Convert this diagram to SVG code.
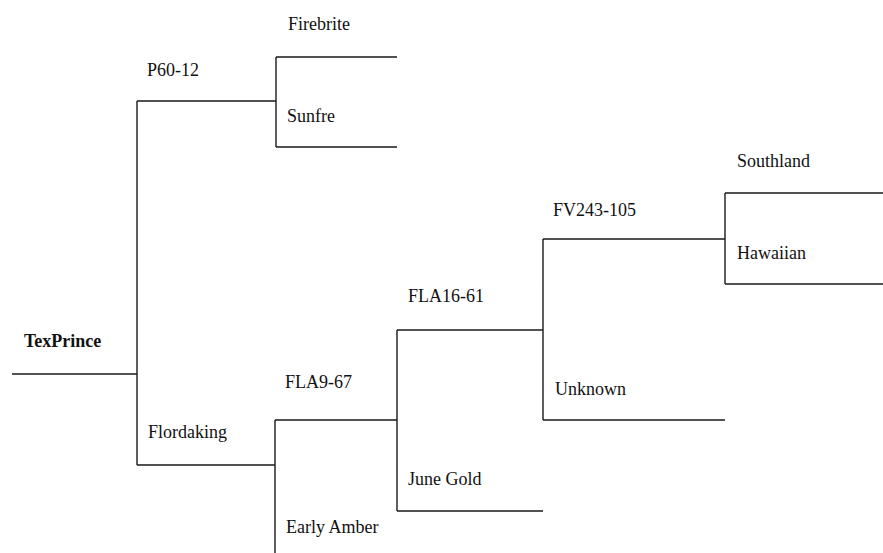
<svg xmlns="http://www.w3.org/2000/svg" width="883" height="553" viewBox="0 0 883 553">
<style>
.l{fill:none;stroke:#1a1a1a;stroke-width:1.4}
.t{font-family:'Liberation Serif','Times New Roman',Times,serif;font-size:18px;fill:#111}
.b{font-weight:bold}
</style>
<rect width="883" height="553" fill="#fff"/>
<g id="connectors">
<path class="l" d="M12 374H137M137 101V465M137 101H276M276 57V147M276 57H397M276 147H397"/>
<path class="l" d="M137 465H275M275 420V553M275 420H397M397 330V511M397 330H543M397 511H543"/>
<path class="l" d="M543 239V420M543 239H725M543 420H725M725 193V284M725 193H883M725 284H883"/>
</g>
<g class="t" font-family="Liberation Serif, serif">
<g id="n-texprince"><text class="b" x="24" y="347">TexPrince</text></g>
<g id="n-p60-12"><text x="147" y="76">P60-12</text></g>
<g id="n-firebrite"><text x="288" y="30">Firebrite</text></g>
<g id="n-sunfre"><text x="287" y="122">Sunfre</text></g>
<g id="n-flordaking"><text x="148" y="438">Flordaking</text></g>
<g id="n-fla9-67"><text x="285" y="388">FLA9-67</text></g>
<g id="n-early-amber"><text x="286" y="533">Early Amber</text></g>
<g id="n-fla16-61"><text x="408" y="302">FLA16-61</text></g>
<g id="n-june-gold"><text x="408" y="485">June Gold</text></g>
<g id="n-fv243-105"><text x="553" y="216">FV243-105</text></g>
<g id="n-unknown"><text x="555" y="395">Unknown</text></g>
<g id="n-southland"><text x="737" y="167">Southland</text></g>
<g id="n-hawaiian"><text x="737" y="259">Hawaiian</text></g>
</g>
</svg>
